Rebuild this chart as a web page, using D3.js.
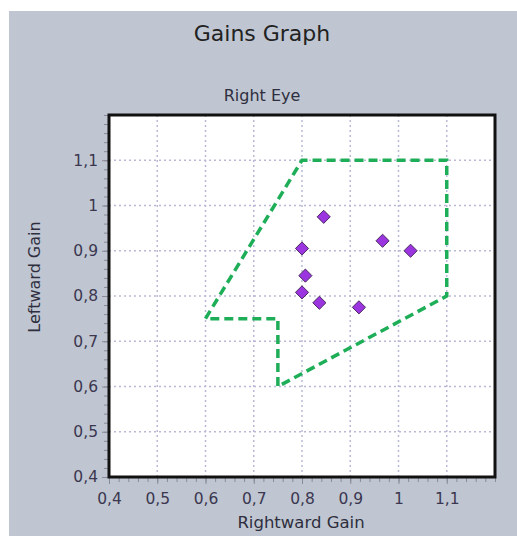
<!DOCTYPE html>
<html><head><meta charset="utf-8">
<script src="https://cdn.jsdelivr.net/npm/d3@7"></script>
<style>body{margin:0;background:#fff;}svg{display:block;}</style>
</head><body>
<script>
const title = "Gains Graph";
const subtitle = "Right Eye";
const xLabel = "Rightward Gain";
const yLabel = "Leftward Gain";
const tickValues = [0.4, 0.5, 0.6, 0.7, 0.8, 0.9, 1.0, 1.1];
const rightwardGain = [0.845, 0.967, 1.025, 0.800, 0.807, 0.800, 0.836, 0.918];
const leftwardGain  = [0.975, 0.922, 0.900, 0.905, 0.845, 0.808, 0.785, 0.775];
const boundaryX = [0.6, 0.8, 1.1, 1.1, 0.75, 0.75, 0.6];
const boundaryY = [0.75, 1.1, 1.1, 0.8, 0.6, 0.75, 0.75];

const W = 517, H = 536;
const m = {left:109, top:115, right:495, bottom:477};
const svg = d3.select("body").append("svg").attr("width", W).attr("height", H);
svg.append("rect").attr("x",9).attr("y",11).attr("width",W-9).attr("height",H-11).attr("fill","#bfc6d1");

const x = d3.scaleLinear().domain([0.4,1.2]).range([m.left,m.right]);
const y = d3.scaleLinear().domain([0.4,1.2]).range([m.bottom,m.top]);
const fmt = d => d3.format("~g")(+d.toFixed(2)).replace(".", ",");
const font = "'DejaVu Sans', Verdana, sans-serif";

svg.append("rect").attr("x",m.left).attr("y",m.top).attr("width",m.right-m.left).attr("height",m.bottom-m.top).attr("fill","#fff");

// grid
const g = svg.append("g");
g.selectAll("line.v").data(tickValues.slice(1)).join("line")
  .attr("x1",d=>x(d)).attr("x2",d=>x(d)).attr("y1",m.top).attr("y2",m.bottom)
  .attr("stroke","#b9b9d6").attr("stroke-width",1.5).attr("stroke-dasharray","2,3");
g.selectAll("line.h").data(tickValues.slice(1)).join("line")
  .attr("y1",d=>y(d)).attr("y2",d=>y(d)).attr("x1",m.left).attr("x2",m.right)
  .attr("stroke","#b9b9d6").attr("stroke-width",1.5).attr("stroke-dasharray","2,3");

// axes
const minor = d3.range(0.4, 1.2001, 0.02);
const xAxis = d3.axisBottom(x).tickValues(tickValues).tickFormat(fmt).tickSize(7).tickPadding(9);
const yAxis = d3.axisLeft(y).tickValues(tickValues).tickFormat(fmt).tickSize(7).tickPadding(4);
const xm = svg.append("g").attr("transform",`translate(0,${m.bottom})`).call(d3.axisBottom(x).tickValues(minor).tickFormat("").tickSize(5));
const ym = svg.append("g").attr("transform",`translate(${m.left},0)`).call(d3.axisLeft(y).tickValues(minor).tickFormat("").tickSize(5));
[xm,ym].forEach(a=>{a.select(".domain").remove(); a.selectAll("line").attr("stroke","#8a8a9a");});
const xa = svg.append("g").attr("transform",`translate(0,${m.bottom})`).call(xAxis);
const ya = svg.append("g").attr("transform",`translate(${m.left},0)`).call(yAxis);
[xa,ya].forEach(a=>{a.select(".domain").remove(); a.selectAll("line").attr("stroke","#8a8a9a");
  a.selectAll("text").attr("font-family",font).attr("font-size",15.5).attr("fill","#3b3750");});

// frame
svg.append("rect").attr("x",m.left).attr("y",m.top).attr("width",m.right-m.left).attr("height",m.bottom-m.top)
  .attr("fill","none").attr("stroke","#111").attr("stroke-width",3);

// boundary polygon
const line = d3.line().x(d=>x(d[0])).y(d=>y(d[1]));
svg.append("path").datum(boundaryX.map((v,i)=>[v,boundaryY[i]]))
  .attr("d",line).attr("fill","none").attr("stroke","#1fae58").attr("stroke-width",3.5)
  .attr("stroke-dasharray","9,5");

// points
const diamond = d3.symbol().type(d3.symbolDiamond2).size(110);
svg.selectAll("path.pt").data(rightwardGain.map((v,i)=>[v,leftwardGain[i]])).join("path")
  .attr("transform",d=>`translate(${x(d[0])},${y(d[1])})`)
  .attr("d",diamond).attr("fill","#9b35e0").attr("stroke","#4a2a60").attr("stroke-width",1);

// texts
svg.append("text").attr("x",262).attr("y",41).attr("text-anchor","middle").attr("font-family",font)
  .attr("font-size",22).attr("fill","#222").text(title);
svg.append("text").attr("x",262).attr("y",101).attr("text-anchor","middle").attr("font-family",font)
  .attr("font-size",16).attr("fill","#2e2e3e").text(subtitle);
svg.append("text").attr("x",301).attr("y",528).attr("text-anchor","middle").attr("font-family",font)
  .attr("font-size",16.5).attr("fill","#2e2e3e").text(xLabel);
svg.append("text").attr("transform","translate(40,277) rotate(-90)").attr("text-anchor","middle").attr("font-family",font)
  .attr("font-size",16).attr("fill","#2e2e3e").text(yLabel);
</script>
</body></html>
